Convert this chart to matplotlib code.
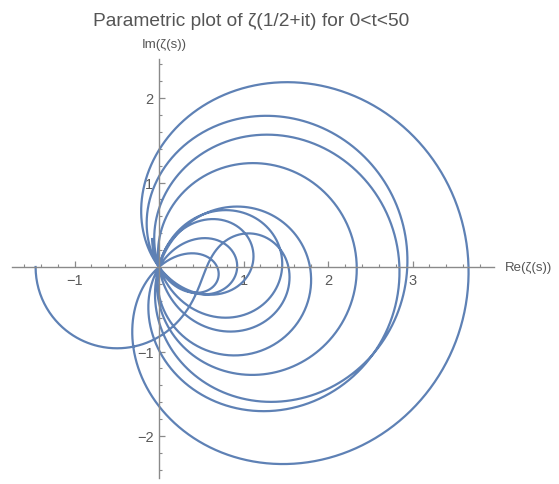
import numpy as np
import matplotlib
matplotlib.use("Agg")
import matplotlib.pyplot as plt
from math import factorial

# ---- data definition ----
T_RANGE = [0.0, 50.0]          # parameter range of t
SIGMA = 0.5                    # real part of s on the critical line
N_SAMPLES = 6000
X_TICKS = [-1, 1, 2, 3]
Y_TICKS = [-2, -1, 1, 2]
TITLE = "Parametric plot of ζ(1/2+it) for 0<t<50"
XLABEL = "Re(ζ(s))"
YLABEL = "Im(ζ(s))"

BERN = [1/6, -1/30, 1/42, -1/30, 5/66, -691/2730]


def zeta(s, N=60):
    s = np.asarray(s, dtype=complex)
    n = np.arange(1, N)
    total = np.sum(n[None, :] ** (-s[:, None]), axis=1)
    total += N ** (-s) / 2 + N ** (1 - s) / (s - 1)
    poch = s.copy()
    for k, b in enumerate(BERN, start=1):
        total += b / factorial(2 * k) * poch * N ** (-s - 2 * k + 1)
        poch = poch * (s + 2 * k - 1) * (s + 2 * k)
    return total


t = np.linspace(T_RANGE[0], T_RANGE[1], N_SAMPLES)
z = zeta(SIGMA + 1j * t)
re, im = z.real, z.imag

# ---- figure ----
W, H = 559, 485
fig = plt.figure(figsize=(W / 100, H / 100), dpi=100)
scale = 84.5
ox, oy = 159, 268
xlim = (-1.74, 3.96)
ylim = (-2.5, 2.46)
left = (ox + xlim[0] * scale) / W
width = (xlim[1] - xlim[0]) * scale / W
bottom = (H - (oy - ylim[0] * scale)) / H
height = (ylim[1] - ylim[0]) * scale / H
ax = fig.add_axes([left, bottom, width, height])
ax.set_xlim(*xlim)
ax.set_ylim(*ylim)

ax.plot(re, im, color="#5E81B5", lw=1.6, solid_joinstyle="round")

axc = "#8a8a8a"
for side in ["top", "right"]:
    ax.spines[side].set_visible(False)
ax.spines["left"].set_position(("data", 0))
ax.spines["bottom"].set_position(("data", 0))
for side in ["left", "bottom"]:
    ax.spines[side].set_color(axc)
    ax.spines[side].set_linewidth(1.0)

ax.set_xticks(X_TICKS)
ax.set_yticks(Y_TICKS)
ax.set_xticklabels([("−" + str(-v)) if v < 0 else str(v) for v in X_TICKS])
ax.set_yticklabels([("−" + str(-v)) if v < 0 else str(v) for v in Y_TICKS])
minor_x = [v / 5 for v in range(-8, 20) if v % 5 != 0]
minor_y = [v / 5 for v in range(-12, 13) if v % 5 != 0]
ax.set_xticks(minor_x, minor=True)
ax.set_yticks(minor_y, minor=True)
ax.tick_params(which="major", direction="in", length=4.5, width=0.9, color=axc,
               labelsize=10.5, labelcolor="#5a5a5a", pad=4)
ax.tick_params(which="minor", direction="in", length=2.5, width=0.8, color=axc)
for lab in ax.get_xticklabels() + ax.get_yticklabels():
    lab.set_fontfamily("Liberation Sans")

fig.text(251.5 / W, 1 - 21 / H, TITLE, ha="center", va="center",
         fontsize=13.8, color="#555555", family="Liberation Sans")
fig.text(164 / W, 1 - 45 / H, YLABEL, ha="center", va="center",
         fontsize=9.5, color="#555555", family="Liberation Sans")
fig.text(505 / W, 1 - oy / H, XLABEL, ha="left", va="center",
         fontsize=9.5, color="#555555", family="Liberation Sans")

fig.savefig("out.png", dpi=100)
